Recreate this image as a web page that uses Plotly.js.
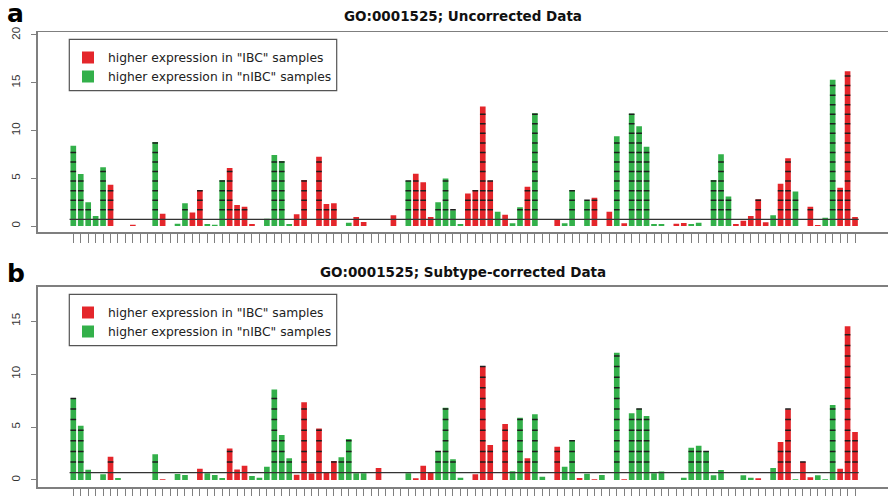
<!DOCTYPE html>
<html>
<head>
<meta charset="utf-8">
<script src="https://cdn.plot.ly/plotly-3.0.1.min.js"></script>
<style>html,body{margin:0;padding:0;overflow:hidden;background:#fff}#chart{width:888px;height:496px}</style>
</head>
<body>
<div id="chart"></div>
<script>
// ---------------- DATA ----------------
const titleA = 'GO:0001525; Uncorrected Data';
const titleB = 'GO:0001525; Subtype-corrected Data';
const legendIBC = 'higher expression in "IBC" samples';
const legendNIBC = 'higher expression in "nIBC" samples';
const threshold = 0.7;
const yTicksA = [0, 5, 10, 15, 20];
const yTicksB = [0, 5, 10, 15];

// one value per gene of the set; direction I = higher in IBC (red), N = higher in nIBC (green), '-' = none
const uncorrectedValues = [8.4,5.45,2.48,1.05,6.14,4.33,0,0,0.14,0,
  0,8.8,1.29,0,0.24,2.37,1.4,3.77,0.2,0.14,
  4.78,6.07,2.2,2.02,0.2,0,0.77,7.43,6.8,0.2,
  1.22,4.82,0,7.26,2.3,2.37,0,0.35,0.94,0.42,
  0,0,0,1.12,0,4.75,5.48,4.57,0.94,2.48,
  4.96,1.64,0.2,3.39,3.77,12.5,4.75,1.5,1.19,0.28,
  1.95,4.12,11.8,0,0,0.63,0.28,3.77,0,2.62,
  2.97,0,1.5,9.4,0.28,11.76,10.44,8.3,0.21,0.21,
  0,0.24,0.31,0.21,0.35,0,4.82,7.5,3.1,0.21,
  0.56,1.05,2.8,0.38,1.12,4.43,7.08,3.6,0,2.02,
  0.1,0.87,15.3,4.0,16.2,0.94];
const uncorrectedDirection = ['N','N','N','N','N','I','-','-','I','-',
  '-','N','I','-','N','N','I','I','N','N',
  'N','I','I','I','I','-','N','N','N','N',
  'I','I','-','I','I','I','-','N','I','I',
  '-','-','-','I','-','N','I','I','I','N',
  'N','N','N','I','I','I','I','N','I','N',
  'N','I','N','-','-','I','N','N','-','N',
  'I','-','I','N','I','N','N','N','N','N',
  '-','I','I','N','N','-','N','N','N','I',
  'I','I','I','I','N','I','I','N','-','I',
  'I','N','N','I','I','I'];

const correctedValues = [7.7,5.13,0.97,0,0.53,2.2,0.19,0,0,0,
  0,2.42,0.06,0,0.57,0.47,0,1.07,0.63,0.47,
  0.19,2.96,1.0,1.35,0.38,0.22,1.26,8.55,4.25,2.04,
  0.5,7.33,0.63,4.87,0.72,1.8,2.14,3.87,0.63,0.63,
  0,1.13,0,0,0,0.63,0.16,1.35,0.75,2.74,
  6.82,1.95,0.22,0,0.53,10.7,3.3,0,5.28,0.82,
  5.88,2.04,6.2,0.31,0,3.14,1.26,3.77,0.19,0.6,
  0.06,0.47,0,12.0,0.06,6.29,6.73,6.04,0.63,0.79,
  0,0,0.22,3.05,3.24,2.74,0.44,0.94,0,0,
  0.44,0.22,0.16,0,1.13,3.58,6.67,0.06,1.73,0.25,
  0.44,0.06,7.08,1.07,14.5,4.53];
const correctedDirection = ['N','N','N','-','N','I','N','-','-','-',
  '-','N','I','-','N','N','-','I','N','N',
  'N','I','I','I','N','N','N','N','N','N',
  'I','I','I','I','I','I','N','N','N','N',
  '-','I','-','-','-','N','I','I','I','N',
  'N','N','N','-','I','I','I','-','I','N',
  'N','I','N','N','-','I','N','N','I','N',
  'I','N','-','N','I','N','N','N','N','N',
  '-','-','N','N','N','N','N','N','-','-',
  'N','N','I','-','N','I','I','N','I','I',
  'N','N','N','I','I','I'];

// ---------------- STYLE / LAYOUT ----------------
const RED = '#e4262b', GREEN = '#33b04a', FRAME = '#7f7f7f', MARK = '#1e1e1e';
const W = 888, H = 496, L = 38;
const px2x = p => (p - L) / (W - L);
const px2y = p => 1 - p / H;

function panelTraces(values, dirs, xa, ya, legendId) {
  const idx = values.map((_, i) => i);
  const red = values.map((v, i) => dirs[i] === 'I' ? v : null);
  const green = values.map((v, i) => dirs[i] === 'N' ? v : null);
  const mx = [], my = [];
  values.forEach((v, i) => {
    for (let k = 1; threshold + k <= v + 0.08; k++) { mx.push(i); my.push(threshold + k); }
  });
  return [
    {type:'bar', x:idx, y:red, name:legendIBC, marker:{color:RED, line:{width:0}}, xaxis:xa, yaxis:ya, legend:legendId, hoverinfo:'y'},
    {type:'bar', x:idx, y:green, name:legendNIBC, marker:{color:GREEN, line:{width:0}}, xaxis:xa, yaxis:ya, legend:legendId, hoverinfo:'y'},
    {type:'scatter', mode:'markers', x:mx, y:my, xaxis:xa, yaxis:ya, showlegend:false, hoverinfo:'skip',
     marker:{symbol:'line-ew', size:4, line:{color:MARK, width:1.5}}},
    {type:'scatter', mode:'lines', x:[-0.5, values.length - 0.5], y:[threshold, threshold], xaxis:xa, yaxis:ya,
     showlegend:false, hoverinfo:'skip', line:{color:'#333', width:1.3}}
  ];
}

const traces = [
  ...panelTraces(uncorrectedValues, uncorrectedDirection, 'x', 'y', 'legend'),
  ...panelTraces(correctedValues, correctedDirection, 'x2', 'y2', 'legend2')
];

function xAxis(anchor) {
  return {domain:[0,1], anchor:anchor, range:[-4.742, 109.43], showline:true, mirror:true, linecolor:FRAME, linewidth:1.6,
    ticks:'outside', ticklen:9, tickwidth:1, tickcolor:FRAME, tickvals:uncorrectedValues.map((_, i) => i),
    showticklabels:false, showgrid:false, zeroline:false, fixedrange:true};
}
function yAxis(anchor, domain, range, tv) {
  return {domain:domain, anchor:anchor, range:range, showline:true, linecolor:FRAME, linewidth:1.6,
    ticks:'outside', ticklen:5, tickwidth:1, tickcolor:FRAME, tickvals:tv, ticktext:tv.map(String),
    tickangle:-90, ticklabelstandoff:7, tickfont:{family:'Liberation Sans, Arial, sans-serif', size:11.5, color:'#333'},
    showgrid:false, zeroline:false, fixedrange:true};
}

const legendStyle = (topPx) => ({x:px2x(68), y:px2y(topPx), xanchor:'left', yanchor:'top', bgcolor:'rgba(0,0,0,0)',
  borderwidth:0, tracegroupgap:0, traceorder:'normal',
  font:{family:'DejaVu Sans, sans-serif', size:12.3, color:'#222'}});

const layout = {
  width:W, height:H, margin:{l:L, r:0, t:0, b:0}, paper_bgcolor:'#fff', plot_bgcolor:'#fff',
  barmode:'overlay', bargap:0.24, showlegend:true,
  xaxis: xAxis('y'), yaxis: yAxis('x', [px2y(232.3), px2y(32.3)], [-0.66, 20.28], yTicksA),
  xaxis2: xAxis('y2'), yaxis2: yAxis('x2', [px2y(487.3), px2y(286.7)], [-0.69, 18.24], yTicksB),
  legend: legendStyle(43), legend2: legendStyle(298),
  shapes:[
    {type:'rect', xref:'paper', yref:'paper', x0:px2x(69.3), x1:px2x(336.7), y0:px2y(90.7), y1:px2y(39.3), line:{color:'#555', width:1.2}},
    {type:'rect', xref:'paper', yref:'paper', x0:px2x(69.3), x1:px2x(336.7), y0:px2y(345.7), y1:px2y(294.3), line:{color:'#555', width:1.2}}
  ],
  annotations:[
    {text:titleA, xref:'x domain', yref:'paper', x:0.5, y:px2y(16), xanchor:'center', yanchor:'middle', showarrow:false,
     font:{family:'DejaVu Sans, sans-serif', size:13.5, color:'#111', weight:'bold'}},
    {text:titleB, xref:'x2 domain', yref:'paper', x:0.5, y:px2y(272), xanchor:'center', yanchor:'middle', showarrow:false,
     font:{family:'DejaVu Sans, sans-serif', size:13.5, color:'#111', weight:'bold'}},
    {text:'a', xref:'paper', yref:'paper', x:px2x(5), y:px2y(13), xanchor:'left', yanchor:'middle', showarrow:false,
     font:{family:'DejaVu Sans, sans-serif', size:25, color:'#000', weight:'bold'}},
    {text:'b', xref:'paper', yref:'paper', x:px2x(5), y:px2y(273), xanchor:'left', yanchor:'middle', showarrow:false,
     font:{family:'DejaVu Sans, sans-serif', size:25, color:'#000', weight:'bold'}}
  ]
};

Plotly.newPlot('chart', traces, layout, {displayModeBar:false, staticPlot:true});
</script>
</body>
</html>
